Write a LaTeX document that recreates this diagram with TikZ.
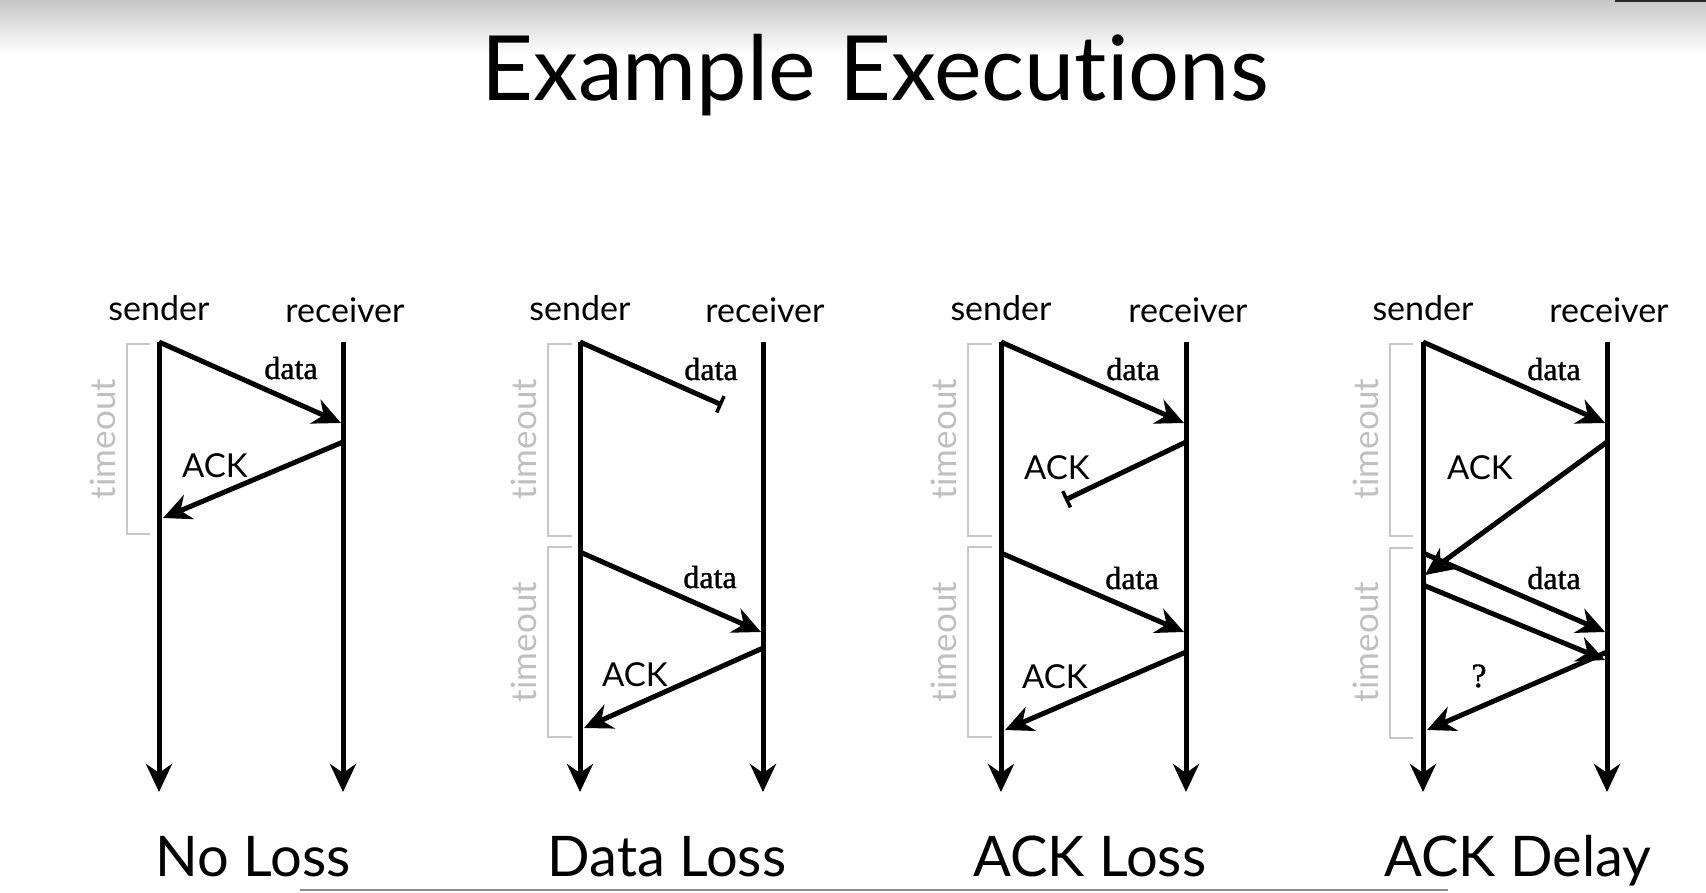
\documentclass[tikz,border=0pt]{standalone}
\usepackage{fontspec}
\usepackage{tikz}
\usetikzlibrary{arrows.meta}
\newfontfamily\gill[Ligatures=NoCommon]{Lato}
\newfontfamily\datafont[FakeBold=1.2]{Liberation Serif}
\tikzset{>={Stealth[length=28pt,width=26pt,inset=9pt]},inner sep=0pt, outer sep=0pt,}
\tikzset{
	lifeline/.style={line width=5pt,->},
	msg/.style={line width=5pt,->},
	lostmsg/.style={line width=5pt,-{Bar[width=18pt,line width=3.5pt]}},
	tmo/.style={draw=black!22,line width=2.2pt},
	tmolabel/.style={text=black!25,font=\gill\fontsize{35}{35}\selectfont,rotate=90},
	who/.style={font=\gill\fontsize{34}{34}\selectfont,anchor=base},
	datalbl/.style={font=\datafont\fontsize{32}{32}\selectfont,anchor=base},
	acklbl/.style={font=\gill\fontsize{33}{33}\selectfont,anchor=base},
	caselbl/.style={font=\gill\fontsize{56}{56}\selectfont,anchor=base},
}

\begin{document}
\begin{tikzpicture}[x=1pt,y=-1pt]
			\useasboundingbox (0,0) rectangle (1706,892);
			% slide background
			\shade[top color=black!22,bottom color=white] (0,0) rectangle (1706,55);
			\coordinate (TR1) at (1615,1);
			\coordinate (TR2) at (1706,1);
			\coordinate (BL1) at (300,890);
			\coordinate (BL2) at (1448,890);
			\draw[black!85,line width=2pt] (TR1)--(TR2);
			\draw[black!45,line width=1.5pt] (BL1)--(BL2);
			\node[anchor=base,font=\gill\fontsize{90}{90}\selectfont] (title) at (875,100) {Example Executions};

			% No Loss
			\coordinate (S1) at (159,342);
			\coordinate (S1e) at (159,792);
			\coordinate (R1) at (343,342);
			\coordinate (R1e) at (343,792);
			\coordinate (D1) at (341,423);
			\coordinate (A1s) at (343,442);
			\coordinate (A1) at (163,518);
			\node[who] (snd1) at (159,320) {sender};
			\node[who] (rcv1) at (345,322) {receiver};
			\draw[lifeline] (S1)--(S1e);
			\draw[lifeline] (R1)--(R1e);
			\draw[msg] (S1)--(D1);
			\draw[msg] (A1s)--(A1);
			\node[datalbl] (d1) at (291,379) {data};
			\node[acklbl] (a1) at (215,477) {ACK};
			\draw[tmo] (150,344) -| (127,534) -- (150,534);
			\node[tmolabel] (t1) at (103,439) {timeout};
			\node[caselbl] (c1) at (253,876) {No Loss};

			% Data Loss
			\coordinate (S2) at (580,342);
			\coordinate (S2b) at (580,552);
			\coordinate (S2e) at (580,792);
			\coordinate (R2) at (763,342);
			\coordinate (R2b) at (763,648);
			\coordinate (R2e) at (763,792);
			\coordinate (L2) at (722,405);
			\coordinate (D2) at (761,632);
			\coordinate (A2) at (584,728);
			\node[who] (snd2) at (580,320) {sender};
			\node[who] (rcv2) at (765,322) {receiver};
			\draw[lifeline] (S2)--(S2e);
			\draw[lifeline] (R2)--(R2e);
			\draw[lostmsg] (S2)--(L2);
			\draw[msg] (S2b)--(D2);
			\draw[msg] (R2b)--(A2);
			\node[datalbl] (d2) at (711,380) {data};
			\node[datalbl] (d2b) at (710,588) {data};
			\node[acklbl] (a2) at (635,686) {ACK};
			\draw[tmo] (572,344) -| (548,536) -- (572,536);
			\draw[tmo] (572,547) -| (548,737) -- (572,737);
			\node[tmolabel] (t2) at (524,439) {timeout};
			\node[tmolabel] (t2b) at (524,642) {timeout};
			\node[caselbl] (c2) at (667,876) {Data Loss};

			% ACK Loss
			\coordinate (S3) at (1001,342);
			\coordinate (S3b) at (1001,553);
			\coordinate (S3e) at (1001,792);
			\coordinate (R3) at (1186,342);
			\coordinate (R3a) at (1186,442);
			\coordinate (R3b) at (1186,652);
			\coordinate (R3e) at (1186,792);
			\coordinate (D3) at (1184,423);
			\coordinate (L3) at (1065,500);
			\coordinate (D3b) at (1184,632);
			\coordinate (A3) at (1005,730);
			\node[who] (snd3) at (1001,320) {sender};
			\node[who] (rcv3) at (1188,322) {receiver};
			\draw[lifeline] (S3)--(S3e);
			\draw[lifeline] (R3)--(R3e);
			\draw[msg] (S3)--(D3);
			\draw[lostmsg] (R3a)--(L3);
			\draw[msg] (S3b)--(D3b);
			\draw[msg] (R3b)--(A3);
			\node[datalbl] (d3) at (1133,380) {data};
			\node[acklbl] (a3) at (1057,479) {ACK};
			\node[datalbl] (d3b) at (1132,589) {data};
			\node[acklbl] (a3b) at (1055,688) {ACK};
			\draw[tmo] (992,344) -| (968,536) -- (992,536);
			\draw[tmo] (992,547) -| (968,737) -- (992,737);
			\node[tmolabel] (t3) at (944,439) {timeout};
			\node[tmolabel] (t3b) at (944,642) {timeout};
			\node[caselbl] (c3) at (1090,876) {ACK Loss};

			% ACK Delay
			\coordinate (S4) at (1423,342);
			\coordinate (S4b) at (1423,553);
			\coordinate (S4c) at (1423,585);
			\coordinate (S4e) at (1423,792);
			\coordinate (R4) at (1607,342);
			\coordinate (R4a) at (1607,442);
			\coordinate (R4b) at (1607,652);
			\coordinate (R4e) at (1607,792);
			\coordinate (D4) at (1605,423);
			\coordinate (A4) at (1425,575);
			\coordinate (D4b) at (1605,632);
			\coordinate (D4c) at (1605,660);
			\coordinate (A4b) at (1427,730);
			\node[who] (snd4) at (1423,320) {sender};
			\node[who] (rcv4) at (1609,322) {receiver};
			\draw[lifeline] (S4)--(S4e);
			\draw[lifeline] (R4)--(R4e);
			\draw[msg] (S4)--(D4);
			\draw[msg] (R4a)--(A4);
			\draw[msg] (S4b)--(D4b);
			\draw[msg] (S4c)--(D4c);
			\draw[msg] (R4b)--(A4b);
			\node[datalbl] (d4) at (1554,380) {data};
			\node[acklbl] (a4) at (1480,479) {ACK};
			\node[datalbl] (d4b) at (1554,589) {data};
			\node[datalbl,font=\datafont\fontsize{34}{34}\selectfont] (q4) at (1479,687) {?};
			\draw[tmo] (1413,344) -| (1390,536) -- (1413,536);
			\draw[tmo] (1413,548) -| (1390,738) -- (1413,738);
			\node[tmolabel] (t4) at (1366,439) {timeout};
			\node[tmolabel] (t4b) at (1366,642) {timeout};
			\node[caselbl] (c4) at (1518,876) {ACK Delay};
\end{tikzpicture}
\end{document}
